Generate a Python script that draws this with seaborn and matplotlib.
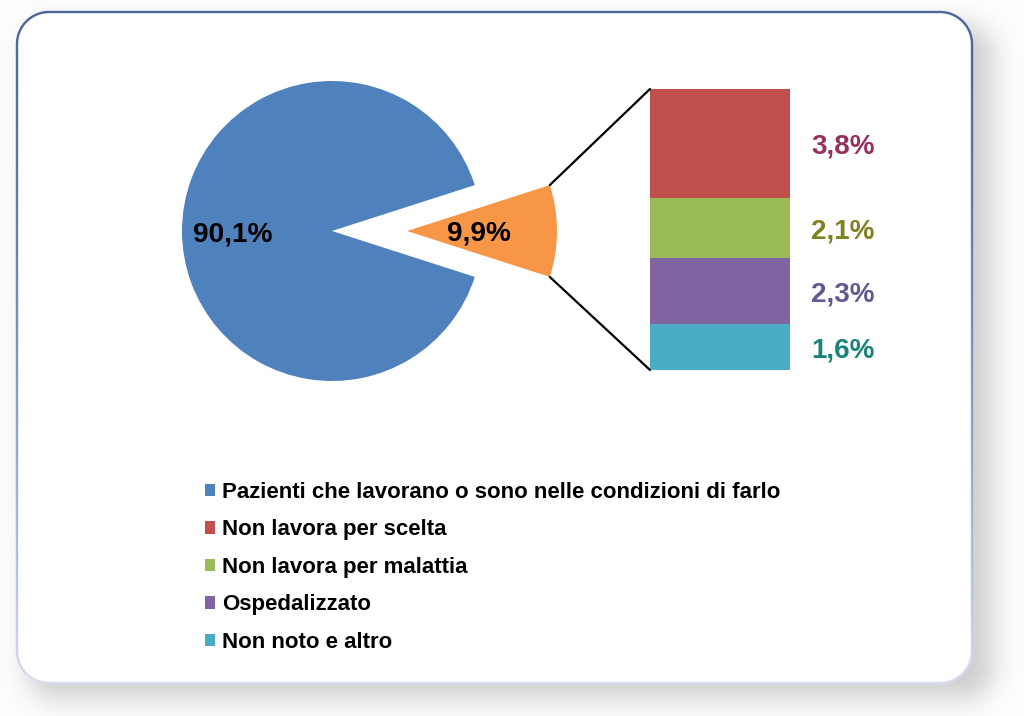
import numpy as np
import pandas as pd
import matplotlib
matplotlib.use("Agg")
import matplotlib.pyplot as plt
from matplotlib.patches import Patch, ConnectionPatch
import seaborn as sns

# ---- data ----
pie_labels = ["Pazienti che lavorano o sono nelle condizioni di farlo", "Altro"]
pie_values = [90.1, 9.9]
pie_colors = ["#4F81BD", "#F79646"]

bar_labels = ["Non lavora per scelta", "Non lavora per malattia", "Ospedalizzato", "Non noto e altro"]
bar_values = [3.8, 2.1, 2.3, 1.6]
bar_colors = ["#C0504D", "#9BBB59", "#8064A2", "#4BACC6"]
bar_text_colors = ["#96305F", "#7F8020", "#5F5A94", "#17837A"]

legend_labels = [pie_labels[0]] + bar_labels
legend_colors = [pie_colors[0]] + bar_colors


def fmt(v):
    return f"{v:.1f}".replace(".", ",") + "%"


sns.set_theme(style="white")
plt.rcParams["font.family"] = ["Liberation Sans", "DejaVu Sans"]

W, H = 1024, 716
fig = plt.figure(figsize=(W / 100, H / 100), dpi=100, facecolor="white")

# ---- background: framed rounded rectangle with soft shadow ----
yy, xx = np.mgrid[0:H, 0:W] + 0.5


def sdf_round_rect(x0, y0, x1, y1, r):
    cx, cy = (x0 + x1) / 2, (y0 + y1) / 2
    hx, hy = (x1 - x0) / 2 - r, (y1 - y0) / 2 - r
    qx = np.abs(xx - cx) - hx
    qy = np.abs(yy - cy) - hy
    outside = np.hypot(np.maximum(qx, 0), np.maximum(qy, 0))
    inside = np.minimum(np.maximum(qx, qy), 0)
    return outside + inside - r


fx0, fy0, fx1, fy1, fr = 17, 12, 972, 683, 32
d_frame = sdf_round_rect(fx0, fy0, fx1, fy1, fr)
d_shadow = sdf_round_rect(fx0 + 12, fy0 + 14, fx1 + 20, fy1 + 15, fr)

img = np.ones((H, W, 3))
shadow_col = np.array([0.60, 0.60, 0.60])
a_sh = 0.5 / (1 + np.exp(d_shadow / 9.0))
img = img * (1 - a_sh[..., None]) + shadow_col * a_sh[..., None]
cov_fill = np.clip(0.5 - d_frame, 0, 1)
img = img * (1 - cov_fill[..., None]) + 1.0 * cov_fill[..., None]
dark = np.array([0x4A, 0x69, 0x9A]) / 255
light = np.array([0xD6, 0xDD, 0xEF]) / 255
t = np.clip((yy - fy0) / (fy1 - fy0), 0, 1) ** 1.4
bcol = dark * (1 - t[..., None]) + light * t[..., None]
cov_b = np.clip(1.2 + 0.5 - np.abs(d_frame), 0, 1)
img = img * (1 - cov_b[..., None]) + bcol * cov_b[..., None]

ax_bg = fig.add_axes([0, 0, 1, 1])
ax_bg.imshow(img, extent=(0, W, H, 0), interpolation="nearest")
ax_bg.set_xlim(0, W)
ax_bg.set_ylim(H, 0)
ax_bg.axis("off")

# ---- pie ----
R = 150.0
pcx, pcy = 332.0, 231.0
xl, xr, yb, yt = -1.3, 1.7, -1.2, 1.2
ax_pie = fig.add_axes([(pcx + xl * R) / W, (H - pcy + yb * R) / H,
                       (xr - xl) * R / W, (yt - yb) * R / H])
ax_pie.patch.set_alpha(0)
start = pie_values[1] / 100 * 360 / 2
wedges, _ = ax_pie.pie(pie_values, colors=pie_colors, startangle=start,
                       explode=[0, 0.5], radius=1.0,
                       wedgeprops=dict(linewidth=0))
ax_pie.set_xlim(xl, xr)
ax_pie.set_ylim(yb, yt)
ax_pie.set_aspect("equal")
ax_pie.axis("off")

label_r = [0.66, 0.48]
for w, v, lr in zip(wedges, pie_values, label_r):
    ang = np.deg2rad((w.theta1 + w.theta2) / 2)
    cx, cy = w.center
    ax_pie.text(cx + lr * np.cos(ang), cy + lr * np.sin(ang), fmt(v),
                ha="center", va="center_baseline", fontsize=20.2,
                fontweight="bold", color="black")

# ---- stacked bar ----
bx0, by0, bx1, by1 = 650, 89, 790, 370
ax_bar = fig.add_axes([bx0 / W, (H - by1) / H, (bx1 - bx0) / W, (by1 - by0) / H])
ax_bar.patch.set_alpha(0)
total = sum(bar_values)
bottoms = []
acc = total
for v in bar_values:
    acc -= v
    bottoms.append(acc)
for v, b, c in zip(bar_values, bottoms, bar_colors):
    sns.barplot(x=pd.Series(["s"]), y=pd.Series([v]), bottom=b, width=1.0,
                color=c, saturation=1, linewidth=0, ax=ax_bar)
ax_bar.set_xlim(-0.5, 0.5)
ax_bar.set_ylim(0, total)
ax_bar.axis("off")

for v, b, tc in zip(bar_values, bottoms, bar_text_colors):
    ax_bar.text(1.15, b + v / 2, fmt(v), transform=ax_bar.get_yaxis_transform(),
                ha="left", va="center_baseline", fontsize=20,
                fontweight="bold", color=tc)

# ---- connector lines ----
ow = wedges[1]
ocx, ocy = ow.center
for theta, yb_ax in [(ow.theta2, 1.0), (ow.theta1, 0.0)]:
    a = np.deg2rad(theta)
    p = (ocx + ow.r * np.cos(a), ocy + ow.r * np.sin(a))
    con = ConnectionPatch(xyA=p, coordsA=ax_pie.transData,
                          xyB=(0.0, yb_ax), coordsB=ax_bar.transAxes,
                          color="black", linewidth=1.6)
    fig.add_artist(con)

# ---- legend ----
handles = [Patch(facecolor=c, edgecolor="none", label=l)
           for c, l in zip(legend_colors, legend_labels)]
fig.legend(handles=handles, loc="upper left",
           bbox_to_anchor=(205 / W, 1 - 482 / H),
           frameon=False, prop=dict(weight="bold", size=16),
           labelcolor="black",
           handlelength=0.47, handleheight=0.47, handletextpad=0.3,
           labelspacing=0.74, borderpad=0, borderaxespad=0)

fig.savefig("out.png", dpi=100, facecolor="white")
